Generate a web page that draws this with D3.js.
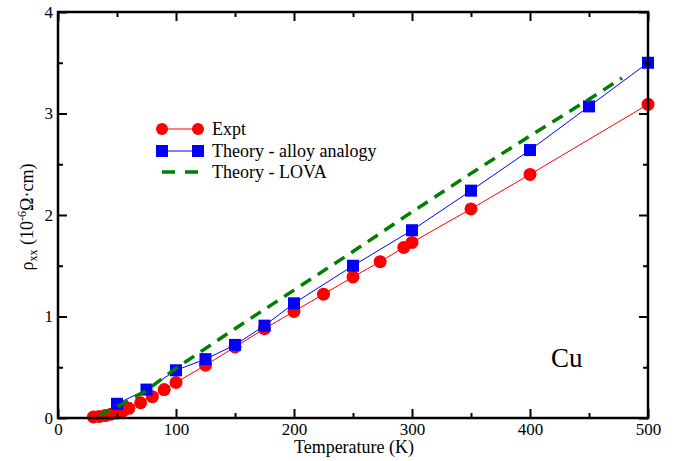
<!DOCTYPE html>
<html><head><meta charset="utf-8">
<script src="https://cdn.jsdelivr.net/npm/d3@7"></script>
<style>
html,body{margin:0;padding:0;background:#fff;}
svg{display:block;}
svg text{font-family:"Liberation Serif","Times New Roman",serif;}
</style></head>
<body>
<svg id="chart" width="677" height="461"></svg>
<script>
// ---- data ----
const exptT   = [30, 35, 40, 45, 50, 55, 60, 70, 80, 90, 100, 125, 150, 175, 200, 225, 250, 273, 293, 300, 350, 400, 500];
const exptRho = [0.01, 0.016, 0.024, 0.037, 0.05, 0.07, 0.095, 0.15, 0.21, 0.28, 0.35, 0.52, 0.70, 0.88, 1.05, 1.22, 1.39, 1.54, 1.68, 1.73, 2.06, 2.40, 3.09];
const alloyT   = [50, 75, 100, 125, 150, 175, 200, 250, 300, 350, 400, 450, 500];
const alloyRho = [0.14, 0.28, 0.47, 0.58, 0.72, 0.91, 1.13, 1.50, 1.85, 2.24, 2.64, 3.07, 3.50];
const lovaT   = [35, 50, 75, 100, 150, 200, 250, 300, 350, 400, 450, 478];
const lovaRho = [0.03, 0.11, 0.27, 0.49, 0.88, 1.26, 1.64, 2.03, 2.41, 2.78, 3.14, 3.35];
const xMajor = [0, 100, 200, 300, 400, 500];
const xMinor = [50, 150, 250, 350, 450];
const yMajor = [0, 1, 2, 3, 4];
const yMinor = [0.5, 1.5, 2.5, 3.5];
const legendLabels = ["Expt", "Theory - alloy analogy", "Theory - LOVA"];

// ---- layout ----
const L = 58, R = 648, T = 12, B = 418;
const FONT = "Liberation Serif, Times New Roman, serif";
const svg = d3.select("#chart");
const x = d3.scaleLinear().domain([0, 500]).range([L, R]);
const y = d3.scaleLinear().domain([0, 4]).range([B, T]);

const red = "#ff0000", blue = "#0000ff", green = "#008000";
const line = d3.line().x(d => x(d[0])).y(d => y(d[1]));

const expt = exptT.map((t, i) => [t, exptRho[i]]);
const alloy = alloyT.map((t, i) => [t, alloyRho[i]]);
const lova = lovaT.map((t, i) => [t, lovaRho[i]]);

// Expt
svg.append("path").attr("d", line(expt)).attr("fill", "none").attr("stroke", red).attr("stroke-width", 1);
svg.append("g").selectAll("circle").data(expt).join("circle")
  .attr("cx", d => x(d[0])).attr("cy", d => y(d[1])).attr("r", 6.5).attr("fill", red);

// Alloy analogy
svg.append("path").attr("d", line(alloy)).attr("fill", "none").attr("stroke", blue).attr("stroke-width", 1);
const sq = 12;
svg.append("g").selectAll("rect").data(alloy).join("rect")
  .attr("x", d => x(d[0]) - sq / 2).attr("y", d => y(d[1]) - sq / 2)
  .attr("width", sq).attr("height", sq).attr("fill", blue);

// LOVA
svg.append("path").attr("d", line(lova)).attr("fill", "none").attr("stroke", green)
  .attr("stroke-width", 3.5).attr("stroke-dasharray", "12,8");

// ---- axes ----
function styleAxis(g) {
  g.attr("font-family", FONT);
  g.select(".domain").remove();
  g.selectAll(".tick line").attr("stroke", "#000").attr("stroke-width", 2);
  g.selectAll(".tick text").attr("font-family", FONT).attr("font-size", 17).attr("fill", "#000");
}
styleAxis(svg.append("g").attr("transform", `translate(0,${B})`)
  .call(d3.axisBottom(x).tickValues(xMajor).tickSize(-9).tickPadding(5).tickFormat(d3.format("d"))));
styleAxis(svg.append("g").attr("transform", `translate(0,${B})`)
  .call(d3.axisBottom(x).tickValues(xMinor).tickSize(-5).tickFormat("")));
styleAxis(svg.append("g").attr("transform", `translate(0,${T})`)
  .call(d3.axisTop(x).tickValues(xMajor).tickSize(-9).tickFormat("")));
styleAxis(svg.append("g").attr("transform", `translate(0,${T})`)
  .call(d3.axisTop(x).tickValues(xMinor).tickSize(-5).tickFormat("")));
styleAxis(svg.append("g").attr("transform", `translate(${L},0)`)
  .call(d3.axisLeft(y).tickValues(yMajor).tickSize(-9).tickPadding(5).tickFormat(d3.format("d"))));
styleAxis(svg.append("g").attr("transform", `translate(${L},0)`)
  .call(d3.axisLeft(y).tickValues(yMinor).tickSize(-5).tickFormat("")));
styleAxis(svg.append("g").attr("transform", `translate(${R},0)`)
  .call(d3.axisRight(y).tickValues(yMajor).tickSize(-9).tickFormat("")));
styleAxis(svg.append("g").attr("transform", `translate(${R},0)`)
  .call(d3.axisRight(y).tickValues(yMinor).tickSize(-5).tickFormat("")));

svg.append("rect").attr("x", L).attr("y", T).attr("width", R - L).attr("height", B - T)
  .attr("fill", "none").attr("stroke", "#000").attr("stroke-width", 2.5);

// axis titles
svg.append("text").attr("x", 354).attr("y", 453).attr("text-anchor", "middle")
  .attr("font-family", FONT).attr("font-size", 18).text("Temperature (K)");
const yt = svg.append("text").attr("transform", "translate(33,217) rotate(-90)")
  .attr("text-anchor", "middle").attr("font-family", FONT).attr("font-size", 18);
yt.append("tspan").text("ρ");
yt.append("tspan").attr("font-size", 12).attr("dy", 4).text("xx");
yt.append("tspan").attr("dy", -4).text(" (10");
yt.append("tspan").attr("font-size", 12).attr("dy", -7).text("-6");
yt.append("tspan").attr("dy", 7).text("Ω·cm)");

// Cu label
svg.append("text").attr("x", 551).attr("y", 367).attr("font-family", FONT).attr("font-size", 27).text("Cu");

// ---- legend ----
const lg = svg.append("g");
const lx0 = 162, lx1 = 198, ly0 = 129, lstep = 22;
lg.append("line").attr("x1", lx0).attr("x2", lx1).attr("y1", ly0).attr("y2", ly0).attr("stroke", red).attr("stroke-width", 1);
[lx0, lx1].forEach(v => lg.append("circle").attr("cx", v).attr("cy", ly0).attr("r", 6).attr("fill", red));
const ly1 = ly0 + lstep;
lg.append("line").attr("x1", lx0).attr("x2", lx1).attr("y1", ly1).attr("y2", ly1).attr("stroke", blue).attr("stroke-width", 1);
[lx0, lx1].forEach(v => lg.append("rect").attr("x", v - 6).attr("y", ly1 - 6).attr("width", 12).attr("height", 12).attr("fill", blue));
const ly2 = ly0 + 2 * lstep - 1;
lg.append("line").attr("x1", lx0).attr("x2", lx1).attr("y1", ly2).attr("y2", ly2).attr("stroke", green)
  .attr("stroke-width", 3.5).attr("stroke-dasharray", "13,10");
[ly0, ly1, ly2].forEach((yy, i) => lg.append("text").attr("x", 212).attr("y", yy + 6)
  .attr("font-family", FONT).attr("font-size", 18).text(legendLabels[i]));
</script>
</body></html>
